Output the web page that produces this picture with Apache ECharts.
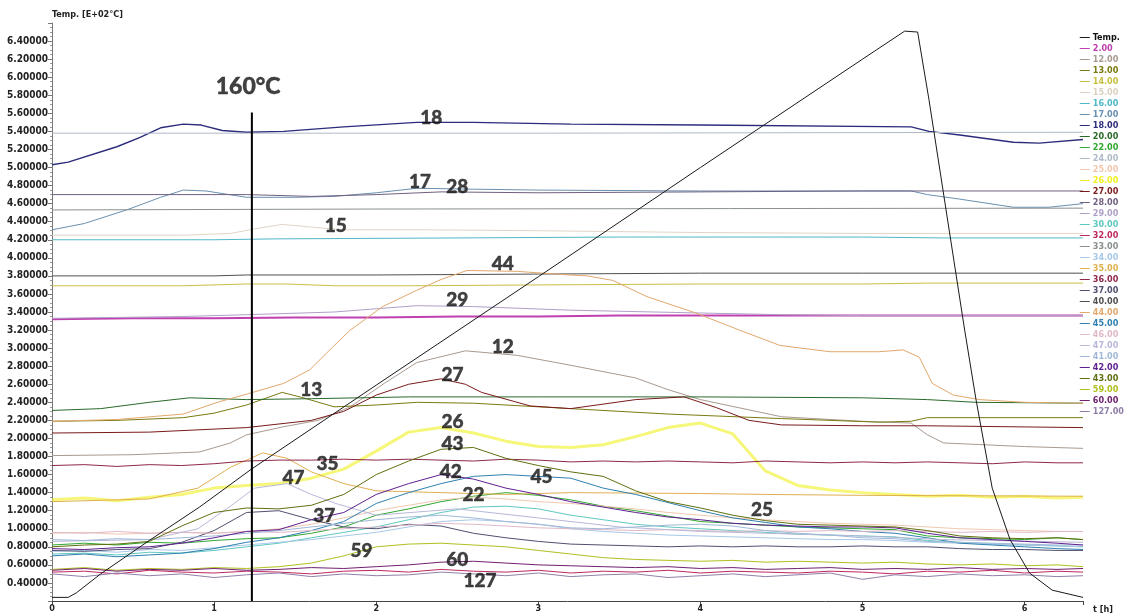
<!DOCTYPE html>
<html><head><meta charset="utf-8">
<script src="https://cdn.jsdelivr.net/npm/echarts@6/dist/echarts.min.js"></script>
<style>html,body{margin:0;padding:0;background:#fff}#c{width:1130px;height:614px}</style>
</head><body><div id="c"></div>
<script>
// ---- data ----
const T = [0,0.2,0.4,0.6,0.8,1,1.2,1.4,1.6,1.8,2,2.2,2.4,2.6,2.8,3,3.2,3.4,3.6,3.8,4,4.2,4.4,4.6,4.8,5,5.2,5.4,5.6,5.8,6,6.2,6.36];
const X_TICKS = [0,1,2,3,4,5,6];
const Y_TICKS = [0.4,0.6,0.8,1.0,1.2,1.4,1.6,1.8,2.0,2.2,2.4,2.6,2.8,3.0,3.2,3.4,3.6,3.8,4.0,4.2,4.4,4.6,4.8,5.0,5.2,5.4,5.6,5.8,6.0,6.2,6.4];

const sTemp = [[0,0.24],[0.1,0.24],[0.15,0.29],[0.3,0.5],[0.6,0.87],[0.91,1.24],[1.23,1.66],[2,2.59],[3,3.79],[4,5.0],[5,6.2],[5.26,6.51],[5.34,6.5],[5.41,5.75],[5.63,3.2],[5.7,2.43],[5.8,1.45],[5.91,0.88],[6.03,0.51],[6.17,0.32],[6.36,0.24]];
const s2 = [[0,3.32],[0.5,3.33],[1,3.33],[1.5,3.34],[2,3.34],[2.5,3.35],[3,3.35],[3.5,3.36],[4,3.36],[5,3.36],[6.36,3.36]];
const s12 = [[0,1.81],[0.5,1.82],[0.91,1.85],[1.1,1.95],[1.2,2.04],[1.43,2.13],[1.64,2.2],[1.84,2.35],[2.05,2.61],[2.25,2.84],[2.55,2.97],[2.87,2.92],[3.2,2.81],[3.6,2.67],[3.8,2.54],[4,2.43],[4.5,2.24],[5,2.19],[5.3,2.17],[5.4,2.04],[5.5,1.95],[6,1.91],[6.36,1.89]];
const s13 = [[0,2.19],[0.4,2.2],[0.81,2.23],[1,2.28],[1.2,2.37],[1.42,2.51],[1.55,2.45],[1.74,2.35],[2,2.37],[2.25,2.4],[2.6,2.39],[3.2,2.33],[3.8,2.27],[4.5,2.22],[5.1,2.18],[5.3,2.19],[5.4,2.23],[6.36,2.23]];
const s14 = [[0,3.69],[0.8,3.69],[1.2,3.71],[1.45,3.71],[1.75,3.69],[2.2,3.69],[3,3.7],[4,3.71],[5,3.71],[5.4,3.72],[6.36,3.72]];
const s15 = [[0,4.25],[0.8,4.25],[1.1,4.27],[1.25,4.32],[1.42,4.37],[1.6,4.34],[1.8,4.31],[2.3,4.31],[3,4.3],[4,4.28],[5,4.27],[6.36,4.27]];
const s16 = [[0,4.2],[1,4.2],[1.4,4.21],[2.5,4.22],[3.5,4.23],[5,4.23],[5.5,4.22],[6.36,4.22]];
const s17 = [[0,4.31],[0.2,4.38],[0.46,4.53],[0.67,4.67],[0.81,4.75],[0.95,4.74],[1.2,4.67],[1.5,4.67],[1.74,4.68],[2,4.72],[2.25,4.77],[2.6,4.76],[3,4.75],[4,4.74],[5.3,4.74],[5.4,4.7],[5.6,4.65],[5.93,4.56],[6.15,4.56],[6.36,4.6]];
const s18 = [[0,5.03],[0.1,5.06],[0.4,5.23],[0.54,5.33],[0.67,5.44],[0.81,5.48],[0.92,5.47],[1.05,5.41],[1.2,5.39],[1.43,5.4],[1.8,5.45],[2.25,5.5],[2.6,5.5],[3.2,5.48],[4,5.47],[5.3,5.45],[5.41,5.4],[5.6,5.36],[5.93,5.28],[6.09,5.27],[6.36,5.31]];
const s20 = [[0,2.31],[0.3,2.33],[0.6,2.4],[0.85,2.45],[1.2,2.43],[1.6,2.44],[2.2,2.46],[3,2.46],[4,2.46],[5,2.45],[5.4,2.43],[5.7,2.4],[6.36,2.39]];
const s22 = [0.82,0.84,0.82,0.85,0.84,0.87,0.89,0.9,0.95,1.02,1.15,1.22,1.3,1.36,1.4,1.37,1.32,1.25,1.2,1.14,1.08,1.06,1.04,1.02,1.01,1.0,0.99,0.92,0.9,0.89,0.88,0.9,0.88];
const s24 = [[0,5.38],[3,5.38],[6.36,5.39]];
const s25 = [0.95,0.96,0.94,0.95,0.96,0.95,0.97,1.0,1.05,1.12,1.2,1.26,1.32,1.35,1.33,1.3,1.28,1.25,1.22,1.18,1.15,1.12,1.1,1.08,1.06,1.05,1.04,1.02,1.0,0.99,0.98,0.97,0.97];
const s26 = [1.32,1.34,1.31,1.35,1.38,1.45,1.48,1.5,1.56,1.66,1.86,2.07,2.12,2.06,1.97,1.91,1.9,1.93,2.02,2.12,2.17,2.05,1.64,1.48,1.43,1.4,1.38,1.36,1.37,1.35,1.36,1.34,1.35];
const s27 = [[0,2.06],[0.6,2.07],[1.2,2.12],[1.6,2.2],[1.8,2.3],[2,2.48],[2.2,2.6],[2.4,2.66],[2.55,2.6],[2.65,2.51],[2.95,2.36],[3.2,2.33],[3.6,2.43],[3.9,2.46],[4.1,2.34],[4.3,2.2],[4.5,2.15],[5,2.14],[5.4,2.14],[6.36,2.12]];
const s28 = [[0,4.7],[1.2,4.7],[1.6,4.68],[2,4.7],[2.4,4.73],[3,4.72],[4,4.73],[5,4.74],[6.36,4.74]];
const s29 = [[0,3.33],[0.8,3.35],[1.2,3.37],[1.74,3.4],[2.25,3.47],[2.6,3.46],[3.2,3.42],[3.97,3.39],[4.5,3.37],[5,3.36],[6.36,3.36]];
const s30 = [0.72,0.73,0.71,0.74,0.73,0.76,0.8,0.84,0.9,0.96,1.02,1.1,1.18,1.24,1.25,1.22,1.15,1.1,1.05,1.02,1.0,0.98,0.96,0.94,0.93,0.92,0.91,0.87,0.85,0.83,0.82,0.81,0.8];
const s32 = [0.52,0.53,0.5,0.54,0.52,0.51,0.53,0.52,0.5,0.53,0.54,0.52,0.55,0.53,0.52,0.54,0.51,0.53,0.52,0.54,0.51,0.53,0.52,0.51,0.53,0.52,0.5,0.53,0.52,0.54,0.51,0.53,0.52];
const s33 = [[0,4.53],[2,4.54],[6.36,4.55]];
const s34 = [0.75,0.76,0.74,0.77,0.76,0.79,0.82,0.85,0.88,0.92,0.96,1.02,1.08,1.1,1.08,1.05,1.0,0.97,0.95,0.93,0.92,0.91,0.9,0.89,0.88,0.88,0.87,0.85,0.84,0.83,0.82,0.81,0.8];
const s35 = [[0,1.3],[0.6,1.33],[0.9,1.45],[1.1,1.68],[1.3,1.84],[1.45,1.78],[1.6,1.63],[1.8,1.5],[2,1.42],[2.4,1.4],[2.8,1.38],[3.2,1.4],[4,1.39],[4.4,1.38],[5,1.37],[6.36,1.36]];
const s36 = [1.7,1.71,1.69,1.71,1.7,1.72,1.75,1.76,1.76,1.77,1.76,1.77,1.76,1.75,1.77,1.76,1.74,1.75,1.74,1.75,1.74,1.73,1.75,1.74,1.73,1.74,1.73,1.74,1.73,1.72,1.74,1.73,1.73];
const s37 = [0.76,0.75,0.77,0.78,0.85,0.98,1.18,1.2,1.1,1.02,1.0,1.05,1.03,0.95,0.9,0.86,0.83,0.82,0.81,0.8,0.81,0.8,0.81,0.8,0.8,0.81,0.8,0.8,0.78,0.77,0.77,0.76,0.76];
const s40 = [[0,3.8],[1,3.8],[1.2,3.81],[2,3.81],[3,3.82],[4,3.83],[5,3.83],[6.36,3.83]];
const s44 = [[0,2.19],[0.4,2.21],[0.81,2.27],[1.02,2.4],[1.2,2.49],[1.43,2.61],[1.59,2.76],[1.73,3.01],[1.84,3.2],[2.04,3.46],[2.25,3.64],[2.4,3.76],[2.56,3.86],[2.87,3.85],[3.19,3.81],[3.3,3.8],[3.46,3.75],[3.67,3.57],[3.97,3.39],[4.24,3.2],[4.49,3.03],[4.8,2.96],[5.1,2.96],[5.25,2.98],[5.35,2.9],[5.43,2.61],[5.56,2.48],[5.72,2.43],[6,2.4],[6.36,2.39]];
const s45 = [0.7,0.72,0.69,0.71,0.73,0.78,0.85,0.9,0.98,1.08,1.28,1.4,1.5,1.58,1.6,1.58,1.56,1.45,1.38,1.29,1.2,1.12,1.07,1.02,1.0,0.97,0.95,0.9,0.84,0.82,0.8,0.78,0.77];
const s46 = [0.96,0.95,0.97,0.95,0.96,0.95,0.97,0.96,0.98,1.0,1.02,1.04,1.06,1.05,1.03,1.01,1.0,0.99,0.98,0.99,0.98,0.97,0.98,0.97,0.98,0.97,0.98,0.97,0.96,0.97,0.96,0.97,0.97];
const s47 = [[0,0.86],[0.6,0.88],[0.9,1.0],[1.1,1.25],[1.25,1.45],[1.45,1.5],[1.6,1.38],[1.75,1.28],[2,1.15],[2.5,1.22],[3,1.12],[3.5,1.02],[4,0.97],[5,0.92],[5.5,0.88],[6.36,0.85]];
const s41 = [0.88,0.87,0.89,0.88,0.9,0.92,0.95,0.98,1.02,1.06,1.1,1.13,1.15,1.12,1.08,1.05,1.01,1.0,1.02,1.04,1.05,1.03,0.98,0.95,0.93,0.9,0.89,0.86,0.85,0.84,0.83,0.82,0.82];
const s42 = [0.78,0.77,0.79,0.8,0.84,0.9,0.97,0.99,1.1,1.18,1.38,1.5,1.6,1.55,1.45,1.38,1.3,1.24,1.18,1.13,1.1,1.06,1.04,1.03,1.02,1.02,1.01,0.95,0.9,0.88,0.86,0.84,0.82];
const s43 = [0.8,0.82,0.83,0.86,1.03,1.18,1.23,1.22,1.26,1.38,1.6,1.75,1.88,1.9,1.78,1.7,1.63,1.58,1.42,1.3,1.23,1.15,1.09,1.05,1.04,1.03,1.02,0.98,0.92,0.9,0.89,0.9,0.88];
const s59 = [0.55,0.57,0.54,0.56,0.55,0.57,0.56,0.58,0.62,0.7,0.8,0.83,0.84,0.82,0.8,0.76,0.72,0.68,0.66,0.65,0.64,0.65,0.63,0.64,0.63,0.62,0.63,0.61,0.6,0.61,0.59,0.6,0.58];
const s60 = [0.54,0.56,0.53,0.55,0.54,0.56,0.54,0.55,0.57,0.56,0.58,0.6,0.63,0.64,0.62,0.6,0.59,0.58,0.57,0.58,0.56,0.57,0.55,0.56,0.57,0.55,0.56,0.55,0.57,0.55,0.56,0.55,0.56];
const s127 = [0.5,0.47,0.51,0.48,0.5,0.46,0.49,0.51,0.47,0.5,0.48,0.49,0.52,0.5,0.48,0.51,0.47,0.49,0.5,0.46,0.48,0.5,0.47,0.49,0.51,0.44,0.49,0.47,0.5,0.48,0.49,0.47,0.48];

const VLINE = [[1.233,0.2],[1.233,5.61]];
const VLINE_LABEL = ['160°C', 1.21, 5.9];
const ANNOT = [['18',2.34,5.55],['17',2.27,4.84],['28',2.5,4.78],['15',1.75,4.35],['44',2.78,3.93],['29',2.5,3.53],['12',2.78,3.01],['27',2.47,2.7],['13',1.6,2.54],['26',2.47,2.18],['43',2.47,1.94],['35',1.7,1.72],['47',1.49,1.56],['42',2.46,1.63],['45',3.02,1.57],['22',2.6,1.38],['25',4.38,1.21],['37',1.68,1.14],['59',1.91,0.75],['60',2.5,0.65],['127',2.64,0.42]];

// legend order, data source
const SERIES_LIST = [
 ['Temp.', sTemp],['2.00', s2],['12.00', s12],['13.00', s13],['14.00', s14],['15.00', s15],['16.00', s16],['17.00', s17],['18.00', s18],
 ['20.00', s20],['22.00', s22],['24.00', s24],['25.00', s25],['26.00', s26],['27.00', s27],['28.00', s28],['29.00', s29],['30.00', s30],
 ['32.00', s32],['33.00', s33],['34.00', s34],['35.00', s35],['36.00', s36],['37.00', s37],['40.00', s40],['44.00', s44],['45.00', s45],
 ['46.00', s46],['47.00', s47],['41.00', s41],['42.00', s42],['43.00', s43],['59.00', s59],['60.00', s60],['127.00', s127]
];

// ---- styles ----
const COLORS = {
 'Temp.':'#1a1a1a','2.00':'#c040b0','12.00':'#a89a90','13.00':'#7a7a10','14.00':'#c8c040','15.00':'#dcd0c0','16.00':'#50b8c8',
 '17.00':'#6a90b0','18.00':'#2c2c7c','20.00':'#2a6a2a','22.00':'#30a830','24.00':'#b0bac8','25.00':'#f0c8b0','26.00':'#f0f020',
 '27.00':'#7a1a1a','28.00':'#706080','29.00':'#b0a0c8','30.00':'#60c8c0','32.00':'#c02860','33.00':'#8a9090','34.00':'#a8c8e8',
 '35.00':'#e0b050','36.00':'#902848','37.00':'#505070','40.00':'#505050','44.00':'#e2a86c','45.00':'#3080b0','46.00':'#e0b8c8',
 '47.00':'#b8b8d8','41.00':'#a0b8d8','42.00':'#602090','43.00':'#607010','59.00':'#b0c020','60.00':'#702070','127.00':'#9080a8'
};
const WIDTH = {'2.00':2,'26.00':3,'18.00':1.4,'Temp.':1};
const OPAC = {'26.00':0.6,'15.00':0.9};

function toPairs(arr){ return Array.isArray(arr[0]) ? arr : T.map((t,i)=>[t,arr[i]]); }

const series = [];
SERIES_LIST.forEach(([name, arr]) => {
  series.push({
    type:'line', name, data: toPairs(arr), showSymbol:false, symbol:'none', silent:true,
    z: name==='Temp.' ? 5 : 2,
    lineStyle:{color:COLORS[name], width: WIDTH[name]||1, opacity: OPAC[name]||1},
    itemStyle:{color:COLORS[name]}
  });
});
series.push({type:'line', data:VLINE, symbol:'none', silent:true, z:6, lineStyle:{color:'#000', width:2}});
const annotLabel = {show:true, position:'inside', formatter:p=>p.name, color:'#111', fontFamily:'Lato', fontWeight:900,
  textBorderColor:'#111', textBorderWidth:0.4};
series.push({type:'scatter', symbolSize:0, silent:true, z:10,
  data:[{name:VLINE_LABEL[0], value:[VLINE_LABEL[1], VLINE_LABEL[2]]}],
  label:Object.assign({}, annotLabel, {fontSize:23})});
series.push({type:'scatter', symbolSize:0, silent:true, z:10,
  data:ANNOT.map(a=>({name:a[0], value:[a[1],a[2]]})),
  label:Object.assign({}, annotLabel, {fontSize:19})});

const axisFont = {fontFamily:'DejaVu Sans Condensed', fontWeight:'bold', fontSize:10, color:'#222'};

const option = {
  animation:false,
  backgroundColor:'#fff',
  grid:{left:52, right:47, top:23, bottom:13, containLabel:false},
  legend:{
    orient:'vertical', right:1, top:28, selectedMode:false,
    icon:'rect', itemWidth:10, itemHeight:1, itemGap:2,
    textStyle:{fontFamily:'DejaVu Sans Condensed', fontWeight:'bold', fontSize:9, lineHeight:9, padding:[0,0,0,-2]},
    data: SERIES_LIST.map(([n])=>({name:n, textStyle:{color: n==='Temp.'?'#111':COLORS[n]}}))
  },
  xAxis:{
    type:'value', min:0, max:6.36, interval:1,
    name:'t [h]', nameLocation:'end', nameGap:10,
    nameTextStyle:Object.assign({}, axisFont, {fontSize:9, verticalAlign:'top', padding:[4,0,0,0]}),
    axisLine:{lineStyle:{color:'#444', width:1}},
    axisTick:{show:true, length:4, lineStyle:{color:'#444'}},
    axisLabel:Object.assign({}, axisFont, {fontSize:9, margin:3, formatter:v=> X_TICKS.includes(v) ? String(v) : ''}),
    splitLine:{show:false}
  },
  yAxis:{
    type:'value', min:0.2, max:6.6, interval:0.2,
    name:'Temp. [E+02°C]', nameLocation:'end', nameGap:4,
    nameTextStyle:Object.assign({}, axisFont, {fontSize:9, align:'left'}),
    axisLine:{show:true, lineStyle:{color:'#777', width:1}},
    axisTick:{show:true, length:4, lineStyle:{color:'#777'}},
    minorTick:{show:true, splitNumber:4, length:2, lineStyle:{color:'#999'}},
    axisLabel:Object.assign({}, axisFont, {margin:4, formatter:v=> Y_TICKS.some(t=>Math.abs(t-v)<1e-6) ? v.toFixed(5) : ''}),
    splitLine:{show:false}
  },
  series
};
const chart = echarts.init(document.getElementById('c'), null, {renderer:'canvas'});
chart.setOption(option);
</script></body></html>
